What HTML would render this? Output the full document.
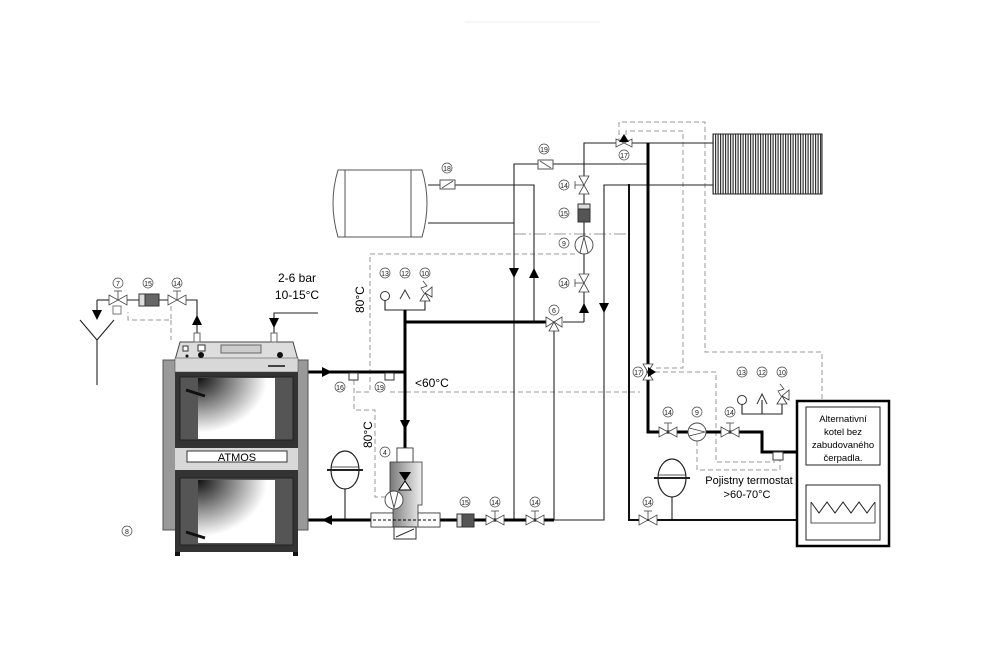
<!DOCTYPE html>
<html><head><meta charset="utf-8"><style>
html,body{margin:0;padding:0;background:#fff;}
svg{display:block;font-family:"Liberation Sans",sans-serif;}
</style></head><body>
<svg width="1008" height="654" viewBox="0 0 1008 654" xmlns="http://www.w3.org/2000/svg">
<defs>
<radialGradient id="dg" cx="0" cy="0" r="1.2">
<stop offset="0" stop-color="#111"/><stop offset="0.75" stop-color="#fff"/></radialGradient>
<linearGradient id="mg" x1="0" x2="1"><stop offset="0" stop-color="#333"/><stop offset="0.8" stop-color="#fff"/></linearGradient>
<pattern id="rad" width="2.5" height="10" patternUnits="userSpaceOnUse"><rect width="2.5" height="10" fill="#fff"/><rect width="1.2" height="10" fill="#333"/></pattern>
<g id="valve"><path d="M-9,-5 L9,5 L9,-5 L-9,5 Z" fill="#fff" stroke="#444" stroke-width="0.8"/><line x1="0" y1="0" x2="0" y2="-9" stroke="#444" stroke-width="0.8"/><line x1="-4" y1="-9" x2="4" y2="-9" stroke="#444" stroke-width="0.8"/></g>
<g id="vvalve"><path d="M-5,-9 L5,9 L-5,9 L5,-9 Z" fill="#fff" stroke="#444" stroke-width="0.8"/><line x1="0" y1="0" x2="-9" y2="0" stroke="#444" stroke-width="0.8"/><line x1="-9" y1="-4" x2="-9" y2="4" stroke="#444" stroke-width="0.8"/></g>
<g id="pump"><circle r="9" fill="#fff" stroke="#444" stroke-width="0.9"/><path d="M-8,-4 L8,0 L-8,4" fill="none" stroke="#444" stroke-width="0.9"/></g>
<g id="tank"><ellipse rx="14" ry="19" fill="#fff" stroke="#222" stroke-width="1.2"/><line x1="-18" y1="0" x2="18" y2="0" stroke="#222" stroke-width="2"/><line x1="-14" y1="-3" x2="14" y2="-3" stroke="#222" stroke-width="0.8"/></g>
</defs>

<line x1="465" y1="22" x2="600" y2="22" stroke="#eee"/>

<g fill="none" stroke="#999" stroke-width="1" stroke-dasharray="5,3">
<polyline points="575,254 370,254 370,392 354,392"/>
<polyline points="390,392 640,392"/>
<polyline points="354,380 354,410 375,410 375,497 386,497"/>
<polyline points="619,143 619,122 705,122 705,352 822,352 822,400"/>
<polyline points="626,143 626,131 683,131 683,368 655,368"/>
<polyline points="655,372 716,372 716,462 775,462"/>
<polyline points="697,441 697,470 780,470 780,460"/>
<polyline points="171,306 171,320 128,320 128,312"/>
<polyline points="171,320 171,340"/>
</g>
<line x1="514" y1="234" x2="628" y2="234" stroke="#777" stroke-width="0.8" stroke-dasharray="12,3,2,3"/>

<g fill="none" stroke="#222" stroke-width="1.1">
<polyline points="428,185 534,185 534,322"/>
<polyline points="428,223 514,223"/>
<polyline points="514,520 514,164 648,164"/>
<polyline points="554,330 554,520 604,520 604,185 716,185"/>
<polyline points="584,322 584,143 716,143"/>
<line x1="563" y1="322" x2="584" y2="322"/>
<polyline points="405,310 385,310 385,298"/>
<polyline points="405,310 425,310 425,298"/>
<polyline points="762,400 762,414 742,414 742,404"/>
<polyline points="762,414 782,414 782,404"/>
<polyline points="97,340 97,385"/>
<polyline points="80,320 97,340 114,320"/>
<polyline points="97,300 110,300"/>
<polyline points="97,300 97,310"/>
<polyline points="186,300 197,300 197,333"/>
<polyline points="274,333 274,313 318,313"/>
<line x1="672" y1="480" x2="672" y2="520"/>
<line x1="345" y1="480" x2="345" y2="520"/>
</g>
<g fill="none" stroke="#111" stroke-width="2">
<polyline points="629,184 629,520 796,520"/>
</g>
<g fill="none" stroke="#000" stroke-width="3">
<polyline points="298,372 405,372"/>
<polyline points="405,310 405,448"/>
<polyline points="405,322 546,322"/>
<polyline points="648,143 648,432 762,432 762,452 796,452"/>
<polyline points="298,520 371,520"/>
<polyline points="440,520 554,520"/>
</g>

<g fill="#000">
<path d="M322,367 L332,372 L322,377Z"/>
<path d="M332,515 L322,520 L332,525Z"/>
<path d="M400,420 L405,430 L410,420Z"/>
<path d="M509,268 L514,278 L519,268Z"/>
<path d="M529,278 L534,268 L539,278Z"/>
<path d="M579,313 L584,303 L589,313Z"/>
<path d="M599,303 L604,313 L609,303Z"/>
<path d="M192,325 L197,315 L202,325Z"/>
<path d="M269,318 L274,328 L279,318Z"/>
<path d="M92,310 L97,320 L102,310Z"/>
</g>

<path d="M338,170 L422,170 Q432,203 422,237 L338,237 Q328,203 338,170Z" fill="#fff" stroke="#555" stroke-width="1"/>
<line x1="345" y1="170" x2="345" y2="237" stroke="#555"/>
<line x1="411" y1="170" x2="411" y2="237" stroke="#555"/>

<rect x="440" y="180" width="15" height="9" fill="#fff" stroke="#555"/><line x1="442" y1="188" x2="453" y2="181" stroke="#555"/>
<rect x="538" y="160" width="15" height="9" fill="#fff" stroke="#555"/><line x1="540" y1="161" x2="551" y2="168" stroke="#555"/>

<rect x="713" y="134" width="109" height="60" fill="url(#rad)" stroke="#222" stroke-width="1"/>

<use href="#vvalve" x="584" y="185"/>
<rect x="578" y="204" width="12" height="18" fill="#555" stroke="#333"/><rect x="578" y="204" width="12" height="5" fill="#ddd" stroke="#333"/>
<use href="#pump" x="584" y="245" transform="rotate(-90 584 245)"/>
<use href="#vvalve" x="584" y="283"/>
<path d="M546,317 L562,327 L562,317 L546,327Z M549,331 L559,331 L554,322Z" fill="#fff" stroke="#444" stroke-width="0.8"/>
<path d="M616,139 L632,147 L632,139 L616,147Z" fill="#fff" stroke="#444" stroke-width="0.8"/><path d="M619,142 L624,134 L629,142Z" fill="#000"/>
<path d="M643,364 L653,380 L643,380 L653,364Z" fill="#fff" stroke="#444" stroke-width="0.8"/><path d="M648,367 L656,372 L648,377Z" fill="#000"/>

<circle cx="385" cy="296" r="4.5" fill="#fff" stroke="#333"/>
<polyline points="400,299 405,290 410,299" fill="none" stroke="#333"/>
<path d="M420,301 L430,301 L425,293Z M425,293 L432,287 L432,297Z" fill="#fff" stroke="#333" stroke-width="0.8"/>
<polyline points="424,293 421,288 427,286 423,281" fill="none" stroke="#333" stroke-width="0.7"/>
<circle cx="742" cy="400" r="4.5" fill="#fff" stroke="#333"/>
<polyline points="757,404 762,394 767,404" fill="none" stroke="#333"/>
<path d="M777,404 L787,404 L782,396Z M782,396 L789,390 L789,400Z" fill="#fff" stroke="#333" stroke-width="0.8"/>
<polyline points="781,396 778,391 784,389 780,384" fill="none" stroke="#333" stroke-width="0.7"/>

<use href="#valve" x="668" y="432"/>
<use href="#pump" x="697" y="432"/>
<use href="#valve" x="730" y="432"/>
<use href="#valve" x="648" y="520"/>
<use href="#tank" x="672" y="478"/>
<rect x="773" y="452" width="10" height="8" fill="#fff" stroke="#333"/>

<rect x="797" y="401" width="92" height="145" fill="#fff" stroke="#000" stroke-width="2.5"/>
<rect x="806" y="407" width="74" height="58" fill="#fff" stroke="#222" stroke-width="1"/>
<text x="843" y="422" font-size="9.5" text-anchor="middle">Alternativní</text>
<text x="843" y="435" font-size="9.5" text-anchor="middle">kotel bez</text>
<text x="843" y="448" font-size="9.5" text-anchor="middle">zabudovaného</text>
<text x="843" y="461" font-size="9.5" text-anchor="middle">čerpadla.</text>
<rect x="806" y="485" width="74" height="55" fill="#fff" stroke="#222" stroke-width="1"/>
<polyline points="811,502 819,513 827,502 835,513 843,502 851,513 859,502 867,513 875,502" fill="none" stroke="#222"/>
<polyline points="811,502 811,523 875,523 875,502" fill="none" stroke="#222" stroke-width="0.8"/>
<text x="749" y="484" font-size="11" text-anchor="middle">Pojistny termostat</text>
<text x="747" y="498" font-size="11" text-anchor="middle">&gt;60-70°C</text>

<use href="#tank" x="345" y="470"/>
<rect x="457" y="514" width="17" height="13" fill="#555" stroke="#333"/><rect x="457" y="514" width="5" height="13" fill="#ddd" stroke="#333"/>
<use href="#valve" x="495" y="520"/>
<use href="#valve" x="535" y="520"/>

<path d="M397,448 L413,448 L413,462 L422,462 L422,505 L418,505 L418,513 L440,513 L440,527 L418,527 L418,527 L393,527 L371,527 L371,513 L393,513 L393,505 L390,505 L390,462 L397,462Z" fill="url(#mg)" stroke="#333" stroke-width="0.8"/>
<rect x="371" y="513" width="22" height="14" fill="#fff" stroke="#333" stroke-width="0.8"/>
<rect x="418" y="513" width="22" height="14" fill="#fff" stroke="#333" stroke-width="0.8"/>
<rect x="397" y="448" width="16" height="14" fill="#fff" stroke="#333" stroke-width="0.8"/>
<line x1="373" y1="520" x2="438" y2="520" stroke="#000" stroke-width="1" stroke-dasharray="3,2"/>
<rect x="394" y="527" width="22" height="12" fill="#fff" stroke="#333"/><line x1="396" y1="537" x2="414" y2="529" stroke="#333"/>
<path d="M399,472 L411,472 L405,481Z" fill="#000"/><path d="M399,490 L411,490 L405,481Z" fill="#fff" stroke="#000"/>
<use href="#pump" x="394" y="500" transform="rotate(90 394 500)"/>

<rect x="163" y="360" width="145" height="170" fill="#999" stroke="#555"/>
<path d="M180,342 L293,342 L298,360 L175,360Z" fill="#ddd" stroke="#444"/>
<rect x="175" y="360" width="123" height="192" fill="#333"/>
<rect x="175" y="358" width="123" height="14" fill="#d8d8d8" stroke="#444" stroke-width="0.5"/>
<rect x="180" y="377" width="113" height="63" fill="#555" stroke="#222"/>
<rect x="198" y="378" width="77" height="61" fill="url(#dg)"/>
<rect x="175" y="448" width="123" height="22" fill="#d8d8d8"/>
<rect x="187" y="451" width="100" height="11" fill="#fff" stroke="#333"/>
<text x="237" y="461" font-size="11" text-anchor="middle">ATMOS</text>
<rect x="180" y="478" width="113" height="67" fill="#555" stroke="#222"/>
<rect x="198" y="480" width="77" height="63" fill="url(#dg)"/>
<line x1="186" y1="390" x2="205" y2="396" stroke="#111" stroke-width="3"/>
<line x1="186" y1="532" x2="205" y2="538" stroke="#111" stroke-width="3"/>
<rect x="175" y="552" width="5" height="4" fill="#111"/><rect x="293" y="552" width="5" height="4" fill="#111"/>
<rect x="221" y="345" width="40" height="8" fill="#ccc" stroke="#666"/>
<rect x="183" y="346" width="5" height="5" fill="#fff" stroke="#333"/>
<rect x="198" y="345" width="7" height="6" fill="#fff" stroke="#333"/>
<circle cx="201" cy="355" r="3" fill="#111"/><circle cx="187" cy="356" r="1.5" fill="#111"/><circle cx="280" cy="355" r="3" fill="#111"/>
<line x1="268" y1="366" x2="285" y2="366" stroke="#111" stroke-width="1.5"/>
<rect x="194" y="333" width="6" height="9" fill="#fff" stroke="#666"/>
<rect x="271" y="333" width="6" height="9" fill="#fff" stroke="#666"/>

<use href="#valve" x="118" y="300"/>
<rect x="113" y="306" width="8" height="8" fill="#fff" stroke="#777"/>
<rect x="139" y="294" width="20" height="12" fill="#666" stroke="#333"/><rect x="139" y="294" width="6" height="12" fill="#ddd" stroke="#333"/>
<use href="#valve" x="177" y="300"/>
<line x1="127" y1="300" x2="139" y2="300" stroke="#222"/><line x1="159" y1="300" x2="168" y2="300" stroke="#222"/>

<rect x="349" y="373" width="9" height="7" fill="#fff" stroke="#333"/>
<rect x="385" y="373" width="9" height="7" fill="#fff" stroke="#333"/>

<text x="297" y="282" font-size="12" text-anchor="middle">2-6 bar</text>
<text x="297" y="299" font-size="12" text-anchor="middle">10-15°C</text>
<text x="415" y="387" font-size="12">&lt;60°C</text>
<text transform="translate(364,313) rotate(-90)" font-size="12">80°C</text>
<text transform="translate(372,448) rotate(-90)" font-size="12">80°C</text>

<g font-size="7" text-anchor="middle" fill="#222">
<g fill="none" stroke="#444" stroke-width="0.7">
<circle cx="118" cy="283" r="5"/><circle cx="148" cy="283" r="5"/><circle cx="177" cy="283" r="5"/>
<circle cx="385" cy="273" r="5"/><circle cx="405" cy="273" r="5"/><circle cx="425" cy="273" r="5"/>
<circle cx="447" cy="168" r="5"/><circle cx="544" cy="149" r="5"/><circle cx="624" cy="155" r="5"/>
<circle cx="564" cy="185" r="5"/><circle cx="564" cy="213" r="5"/><circle cx="564" cy="243" r="5"/><circle cx="564" cy="283" r="5"/>
<circle cx="554" cy="310" r="5"/><circle cx="340" cy="387" r="5"/><circle cx="380" cy="387" r="5"/>
<circle cx="385" cy="452" r="5"/><circle cx="465" cy="502" r="5"/><circle cx="495" cy="502" r="5"/><circle cx="535" cy="502" r="5"/>
<circle cx="127" cy="531" r="5"/><circle cx="638" cy="372" r="5"/>
<circle cx="668" cy="412" r="5"/><circle cx="697" cy="412" r="5"/><circle cx="730" cy="412" r="5"/>
<circle cx="742" cy="372" r="5"/><circle cx="762" cy="372" r="5"/><circle cx="782" cy="372" r="5"/><circle cx="648" cy="502" r="5"/>
</g>
<text x="118" y="286">7</text><text x="148" y="286">15</text><text x="177" y="286">14</text>
<text x="385" y="276">13</text><text x="405" y="276">12</text><text x="425" y="276">10</text>
<text x="447" y="171">18</text><text x="544" y="152">19</text><text x="624" y="158">17</text>
<text x="564" y="188">14</text><text x="564" y="216">15</text><text x="564" y="246">9</text><text x="564" y="286">14</text>
<text x="554" y="313">6</text><text x="340" y="390">16</text><text x="380" y="390">19</text>
<text x="385" y="455">4</text><text x="465" y="505">15</text><text x="495" y="505">14</text><text x="535" y="505">14</text>
<text x="127" y="534">8</text><text x="638" y="375">17</text>
<text x="668" y="415">14</text><text x="697" y="415">9</text><text x="730" y="415">14</text>
<text x="742" y="375">13</text><text x="762" y="375">12</text><text x="782" y="375">10</text><text x="648" y="505">14</text>
</g>
</svg>
</body></html>
